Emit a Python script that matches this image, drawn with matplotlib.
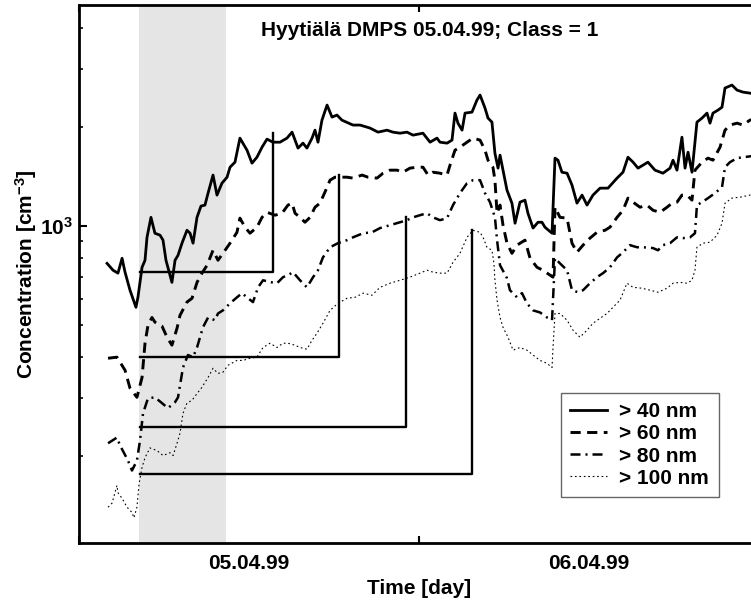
import matplotlib
matplotlib.use("Agg")
import matplotlib.pyplot as plt
from matplotlib.ticker import FixedLocator, NullFormatter, FixedFormatter

# --- Data (time in hours from 05.04.99 00:00, concentration in cm^-3) ---
t40 = [1.98, 2.40, 2.75, 3.04, 3.25, 3.60, 4.02, 4.16, 4.45, 4.66, 4.80, 5.08, 5.36, 5.72, 5.93,
       6.14, 6.56, 6.78, 6.99, 7.27, 7.62, 7.84, 8.05, 8.33, 8.61, 8.89, 9.11, 9.46, 9.74, 10.09,
       10.45, 10.66, 11.01, 11.36, 11.65, 11.86, 12.21, 12.56, 12.92, 13.27, 13.69, 14.19, 14.68,
       15.04, 15.46, 15.81, 16.09, 16.45, 16.66, 16.87, 17.15, 17.51, 17.86, 18.21, 18.56, 19.34,
       19.84, 20.54, 21.11, 21.74, 22.16, 22.66, 23.15, 23.58, 24.28, 24.78, 25.27, 25.48, 25.98,
       26.33, 26.54, 26.75, 27.04, 27.25, 27.74, 28.09, 28.31, 28.66, 28.87, 29.15, 29.36, 29.58,
       29.72, 29.93, 30.21, 30.56, 30.78, 31.13, 31.48, 31.69, 32.05, 32.40, 32.68, 32.89, 33.39,
       33.60, 33.81, 34.09, 34.45, 34.80, 35.15, 35.51, 35.86, 36.28, 36.78, 37.34, 37.98, 38.40,
       38.75, 39.11, 39.46, 39.81, 40.16, 40.66, 41.22, 41.72, 41.93, 42.21, 42.56, 42.78, 42.99,
       43.27, 43.62, 43.98, 44.33, 44.54, 44.75, 45.11, 45.39, 45.60, 46.09, 46.45, 46.87, 47.36,
       48.00]
c40 = [771, 735, 720, 799, 725, 639, 567, 608, 750, 788, 925, 1064, 952, 939, 907,
       788, 675, 788, 816, 888, 972, 952, 888, 1064, 1151, 1159, 1260, 1430, 1243, 1351,
       1409, 1511, 1565, 1852, 1764, 1702, 1554, 1620, 1738, 1839, 1800, 1800, 1852,
       1931, 1727, 1788, 1727, 1852, 1958, 1800, 2100, 2334, 2145, 2176, 2100, 2029,
       2029, 1987, 1931, 1958, 1931, 1917, 1931, 1891, 1917, 1800, 1852, 1800, 1788,
       1826, 2206, 2056, 1958, 2206, 2221, 2416, 2503, 2285, 2131, 2071, 1666, 1501,
       1644, 1480, 1287, 1175, 1021, 1183, 1200, 1095, 987, 1028, 1028, 993, 952,
       1610, 1587, 1459, 1449, 1333, 1175, 1243, 1159, 1243, 1305, 1305, 1400, 1459,
       1620, 1565, 1501, 1533, 1565, 1480, 1449, 1501, 1587, 1480, 1864, 1501, 1678,
       1459, 2071, 2131, 2206, 2056, 2206, 2253, 2300, 2629, 2684, 2591, 2555, 2537,
       2503]

t60 = [2.05, 2.68, 3.25, 3.60, 4.09, 4.45, 4.66, 4.87, 5.15, 5.36, 5.86, 6.21, 6.56, 6.92, 7.13,
       7.62, 7.98, 8.33, 8.68, 9.04, 9.46, 9.81, 10.16, 10.66, 11.15, 11.36, 11.72, 12.07, 12.56,
       12.92, 13.27, 13.84, 14.33, 14.75, 15.04, 15.25, 15.60, 15.95, 16.31, 16.66, 17.01, 17.36,
       17.72, 18.07, 18.42, 18.92, 19.34, 19.98, 20.40, 21.04, 21.46, 21.95, 22.45, 22.87, 23.36,
       23.86, 24.28, 24.64, 24.99, 25.48, 25.98, 26.19, 26.54, 26.89, 27.39, 27.81, 28.31, 28.66,
       28.87, 29.22, 29.36, 29.51, 29.72, 29.93, 30.21, 30.56, 30.92, 31.48, 31.84, 32.33, 32.75,
       33.25, 33.46, 33.60, 33.95, 34.45, 34.80, 35.15, 35.58, 36.07, 36.56, 37.13, 37.48, 37.98,
       38.40, 38.75, 39.11, 39.60, 40.09, 40.52, 41.01, 41.51, 41.86, 42.21, 42.56, 42.92, 43.27,
       43.48, 43.98, 44.40, 44.75, 45.25, 45.60, 45.95, 46.45, 46.87, 47.36, 48.00]
c60 = [397, 400, 365, 322, 302, 347, 441, 500, 528, 511, 497, 460, 435, 490, 536,
       588, 604, 675, 720, 761, 845, 788, 827, 888, 958, 1058, 993, 952, 993,
       1064, 1102, 1080, 1095, 1159, 1175, 1095, 1064, 1028, 1064, 1142, 1175, 1269,
       1380, 1409, 1409, 1409, 1400, 1430, 1409, 1400, 1449, 1480, 1480, 1459, 1501,
       1511, 1511, 1430, 1459, 1449, 1430, 1533, 1702, 1738, 1800, 1852, 1826, 1702,
       1587, 1511, 1380, 1095, 1159, 1007, 888, 827, 876, 907, 799, 750, 735,
       710, 700, 1142, 1064, 1058, 888, 833, 876, 920, 958, 972, 993, 1064,
       1118, 1217, 1183, 1142, 1159, 1118, 1102, 1142, 1175, 1183, 1243, 1243, 1200,
       1480, 1565, 1610, 1587, 1738, 1958, 2029, 2056, 2029, 2100, 2131]

t80 = [2.05, 2.68, 2.89, 3.46, 3.74, 4.09, 4.31, 4.52, 4.87, 5.36, 5.86, 6.28, 6.78, 6.99, 7.34,
       7.69, 8.05, 8.33, 8.75, 9.11, 9.60, 9.81, 10.16, 10.66, 11.15, 11.51, 11.93, 12.28, 12.64,
       12.99, 13.62, 13.98, 14.40, 14.75, 15.11, 15.60, 16.09, 16.52, 16.87, 17.22, 17.72, 18.28,
       18.92, 19.34, 20.05, 20.68, 21.25, 21.95, 22.66, 23.15, 23.58, 24.07, 24.56, 24.99, 25.48,
       25.98, 26.40, 26.89, 27.39, 27.81, 28.31, 28.66, 29.01, 29.36, 29.51, 29.72, 30.21, 30.42,
       30.92, 31.27, 31.62, 32.05, 32.54, 33.04, 33.39, 33.60, 33.95, 34.45, 34.80, 35.22, 35.58,
       36.07, 36.56, 36.99, 37.48, 37.98, 38.40, 38.89, 39.39, 39.81, 40.52, 40.87, 41.22, 41.72,
       42.21, 42.64, 43.13, 43.48, 43.62, 43.98, 44.40, 44.89, 45.39, 45.60, 45.95, 46.45, 46.87,
       47.36, 48.00]
c80 = [219, 228, 216, 194, 181, 194, 224, 270, 300, 302, 290, 280, 292, 302, 372,
       406, 400, 428, 493, 528, 518, 543, 555, 583, 608, 626, 604, 588, 652,
       685, 675, 671, 700, 710, 725, 685, 652, 700, 735, 804, 863, 888,
       907, 925, 952, 958, 987, 1007, 1028, 1043, 1064, 1080, 1095, 1064, 1043,
       1058, 1159, 1260, 1351, 1380, 1380, 1260, 1183, 1064, 907, 761, 695, 639,
       608, 626, 583, 555, 547, 528, 518, 799, 771, 735, 639, 630, 639,
       671, 700, 720, 750, 804, 833, 876, 863, 863, 858, 845, 876, 888,
       925, 920, 925, 952, 1159, 1183, 1217, 1260, 1314, 1511, 1565, 1610, 1620,
       1630, 1644]

t100 = [2.05, 2.33, 2.68, 2.75, 3.04, 3.39, 3.74, 3.88, 4.09, 4.24, 4.45, 4.66, 5.01, 5.51, 5.93,
        6.42, 6.64, 6.92, 7.13, 7.34, 7.62, 7.98, 8.33, 8.68, 9.11, 9.46, 9.81, 10.16, 10.52,
        11.15, 11.58, 12.07, 12.56, 12.99, 13.48, 13.98, 14.40, 14.75, 15.25, 15.60, 16.09, 16.45,
        16.80, 17.22, 17.72, 18.28, 18.92, 19.48, 20.05, 20.68, 21.25, 21.95, 22.66, 23.36, 24.07,
        24.56, 24.99, 25.48, 25.98, 26.40, 26.89, 27.39, 27.81, 28.31, 28.52, 28.80, 29.15, 29.29,
        29.36, 29.51, 29.72, 29.93, 30.28, 30.64, 31.13, 31.62, 32.05, 32.54, 33.04, 33.39, 33.46,
        33.60, 33.95, 34.45, 34.87, 35.36, 35.86, 36.28, 36.78, 37.27, 37.69, 38.19, 38.68, 39.11,
        39.74, 40.31, 40.87, 41.51, 41.93, 42.42, 42.92, 43.27, 43.48, 43.62, 44.05, 44.54, 45.04,
        45.39, 45.60, 46.09, 46.66, 47.36, 48.00]
c100 = [140, 144, 163, 155, 149, 140, 135, 130, 140, 165, 185, 198, 212, 208, 201,
        205, 201, 219, 235, 270, 290, 296, 310, 324, 347, 370, 357, 360, 378,
        391, 391, 397, 400, 428, 441, 428, 441, 441, 435, 428, 423, 450,
        473, 507, 555, 583, 604, 608, 626, 617, 652, 671, 685, 700, 720,
        735, 725, 720, 720, 777, 827, 925, 972, 958, 925, 863, 845, 771,
        685, 596, 528, 493, 460, 420, 428, 420, 406, 391, 383, 372, 428,
        543, 543, 518, 483, 460, 483, 507, 525, 543, 567, 596, 671, 652,
        648, 639, 630, 648, 671, 675, 671, 685, 735, 863, 888, 894, 939,
        1021, 1175, 1217, 1225, 1243, 1251]

labels = ['> 40 nm', '> 60 nm', '> 80 nm', '> 100 nm']

# growth brackets: start time, start level, end time, peak level
br_start = 4.3
br_level = [725, 400, 245, 177]
br_end = [13.69, 18.35, 23.08, 27.74]
br_peak = [1917, 1430, 1064, 972]

shade = (4.25, 10.4)

plt.rcParams['font.family'] = ['Liberation Sans', 'DejaVu Sans']
plt.rcParams['font.weight'] = 'bold'
plt.rcParams['mathtext.fontset'] = 'custom'
plt.rcParams['mathtext.rm'] = 'Liberation Sans:bold'
plt.rcParams['mathtext.bf'] = 'Liberation Sans:bold'
plt.rcParams['mathtext.default'] = 'bf'

FS = 15

fig = plt.figure(figsize=(7.51, 6.00), dpi=100)
ax = fig.add_axes([79 / 751, 57 / 600, 680 / 751, 538 / 600])

ax.axvspan(shade[0], shade[1], color='#e5e5e5', lw=0, zorder=0)

ax.plot(t40, c40, color='black', lw=2.0, ls='-', label=labels[0])
ax.plot(t60, c60, color='black', lw=2.1, ls=(0, (3.5, 2.2)), label=labels[1])
ax.plot(t80, c80, color='black', lw=1.8, ls=(0, (4, 2, 0.8, 2)), label=labels[2])
ax.plot(t100, c100, color='black', lw=0.8, ls=(0, (1.5, 2.5)), label=labels[3])

for lv, te, pk in zip(br_level, br_end, br_peak):
    ax.plot([br_start, te, te], [lv, lv, pk], color='black', lw=1.7)

ax.set_yscale('log')
ax.set_xlim(0, 48)
ax.set_ylim(109, 4700)

ax.xaxis.set_major_locator(FixedLocator([0, 24, 48]))
ax.xaxis.set_major_formatter(NullFormatter())
ax.xaxis.set_minor_locator(FixedLocator([12, 36]))
ax.xaxis.set_minor_formatter(FixedFormatter(['05.04.99', '06.04.99']))
ax.tick_params(axis='x', which='minor', length=0, pad=8, labelsize=FS)
ax.tick_params(axis='x', which='major', direction='in', length=5, width=1.5, top=True)

ax.yaxis.set_major_locator(FixedLocator([1000]))
ax.yaxis.set_major_formatter(FixedFormatter([r'$10^3$']))
ax.yaxis.set_minor_locator(FixedLocator([200, 300, 400, 500, 600, 700, 800, 900,
                                         2000, 3000, 4000]))
ax.yaxis.set_minor_formatter(NullFormatter())
ax.tick_params(axis='y', which='major', direction='in', length=6, width=1.5,
               right=True, labelsize=FS, pad=4)
ax.tick_params(axis='y', which='minor', direction='in', length=3, width=1.2, right=True)

for s in ax.spines.values():
    s.set_linewidth(2.0)

ax.set_xlabel('Time [day]', fontsize=FS, fontweight='bold', labelpad=4)
ax.set_ylabel(r'Concentration [cm$^{-3}$]', fontsize=FS, fontweight='bold', labelpad=1)

ax.text(0.516, 0.953, 'Hyytiälä DMPS 05.04.99; Class = 1', transform=ax.transAxes,
        ha='center', va='center', fontsize=FS, fontweight='bold')

leg = ax.legend(loc='upper left', bbox_to_anchor=(0.709, 0.279), fancybox=False,
                edgecolor='#666666', framealpha=1, fontsize=FS, handlelength=1.75,
                labelspacing=0.15, borderpad=0.45, handletextpad=0.6,
                borderaxespad=0)
leg.get_frame().set_linewidth(1.0)

fig.savefig('out.png', dpi=100)
